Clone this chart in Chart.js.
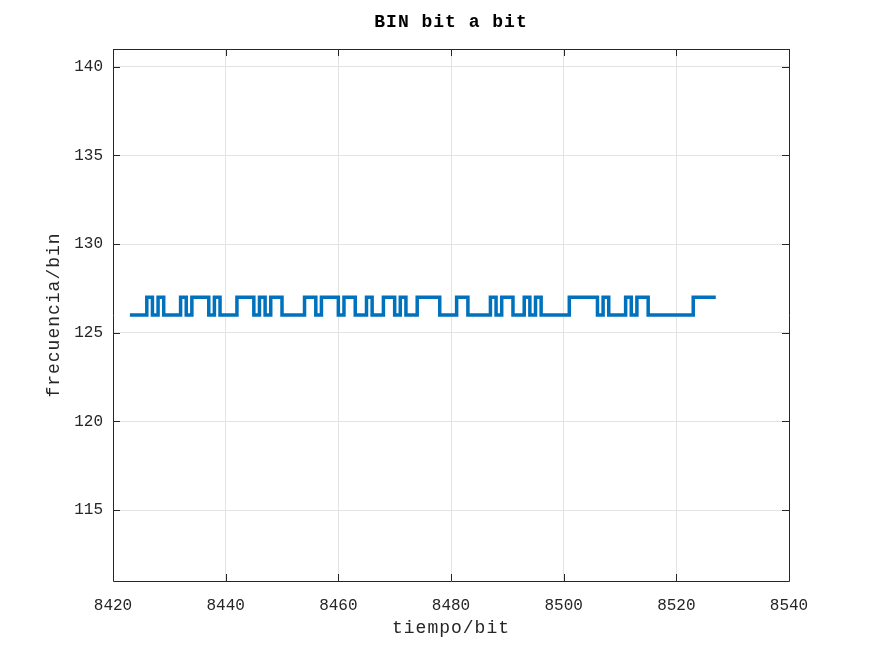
<!DOCTYPE html>
<html>
<head>
<meta charset="utf-8">
<script src="https://cdn.jsdelivr.net/npm/chart.js@4/dist/chart.umd.min.js"></script>
<style>
  html, body { margin: 0; padding: 0; background: #fff; }
  canvas { display: block; }
</style>
</head>
<body>
<canvas id="bin-chart" width="872" height="654"></canvas>
<script>
// Data: bit start times and bin values (held until next bit)
const bitTimes = [
  8423, 8424, 8425, 8426, 8427, 8428, 8429, 8430, 8431, 8432,
  8433, 8434, 8435, 8436, 8437, 8438, 8439, 8440, 8441, 8442,
  8443, 8444, 8445, 8446, 8447, 8448, 8449, 8450, 8451, 8452,
  8453, 8454, 8455, 8456, 8457, 8458, 8459, 8460, 8461, 8462,
  8463, 8464, 8465, 8466, 8467, 8468, 8469, 8470, 8471, 8472,
  8473, 8474, 8475, 8476, 8477, 8478, 8479, 8480, 8481, 8482,
  8483, 8484, 8485, 8486, 8487, 8488, 8489, 8490, 8491, 8492,
  8493, 8494, 8495, 8496, 8497, 8498, 8499, 8500, 8501, 8502,
  8503, 8504, 8505, 8506, 8507, 8508, 8509, 8510, 8511, 8512,
  8513, 8514, 8515, 8516, 8517, 8518, 8519, 8520, 8521, 8522,
  8523, 8524, 8525, 8526, 8527
];
const binValues = [
  126, 126, 126, 127, 126, 127, 126, 126, 126, 127,
  126, 127, 127, 127, 126, 127, 126, 126, 126, 127,
  127, 127, 126, 127, 126, 127, 127, 126, 126, 126,
  126, 127, 127, 126, 127, 127, 127, 126, 127, 127,
  126, 126, 127, 126, 126, 127, 127, 126, 127, 126,
  126, 127, 127, 127, 127, 126, 126, 126, 127, 127,
  126, 126, 126, 126, 127, 126, 127, 127, 126, 126,
  127, 126, 127, 126, 126, 126, 126, 126, 127, 127,
  127, 127, 127, 126, 127, 126, 126, 126, 127, 126,
  127, 127, 126, 126, 126, 126, 126, 126, 126, 126,
  127, 127, 127, 127, 127
];
const xTickValues = [8420, 8440, 8460, 8480, 8500, 8520, 8540];
const yTickValues = [115, 120, 125, 130, 135, 140];

const FONT = "'Liberation Mono', 'DejaVu Sans Mono', monospace";
const INK = '#262626';

// Box, inward ticks, title and axis labels (MATLAB look)
const matlabFrame = {
    id: 'matlabFrame',
    afterDraw(chart) {
        const ctx = chart.ctx;
        const a = chart.chartArea;
        const xs = chart.scales.x;
        const ys = chart.scales.y;
        const tl = 7;

        ctx.save();
        ctx.strokeStyle = INK;
        ctx.lineWidth = 1;
        ctx.beginPath();
        ctx.rect(Math.round(a.left) + 0.5, Math.round(a.top) + 0.5,
                 Math.round(a.right - a.left), Math.round(a.bottom - a.top));
        xTickValues.forEach(v => {
            const px = Math.round(xs.getPixelForValue(v)) + 0.5;
            ctx.moveTo(px, a.bottom); ctx.lineTo(px, a.bottom - tl);
            ctx.moveTo(px, a.top); ctx.lineTo(px, a.top + tl);
        });
        yTickValues.forEach(v => {
            const py = Math.round(ys.getPixelForValue(v)) + 0.5;
            ctx.moveTo(a.left, py); ctx.lineTo(a.left + tl, py);
            ctx.moveTo(a.right, py); ctx.lineTo(a.right - tl, py);
        });
        ctx.stroke();

        ctx.letterSpacing = '1px';
        ctx.fillStyle = '#000';
        ctx.textAlign = 'center';
        ctx.textBaseline = 'middle';
        ctx.font = 'bold 18px ' + FONT;
        ctx.fillText('BIN bit a bit', (a.left + a.right) / 2, 22);

        ctx.fillStyle = INK;
        ctx.font = '18px ' + FONT;
        ctx.fillText('tiempo/bit', (a.left + a.right) / 2, 628);

        ctx.translate(54, (a.top + a.bottom) / 2);
        ctx.rotate(-Math.PI / 2);
        ctx.fillText('frecuencia/bin', 0, 0);
        ctx.restore();
    }
};

const ctx = document.getElementById('bin-chart').getContext('2d');
const binChart = new Chart(ctx, {
    type: 'line',
    data: {
        datasets: [{
            data: bitTimes.map((t, i) => ({ x: t, y: binValues[i] })),
            borderColor: '#0072BD',
            borderWidth: 3.5,
            pointRadius: 0,
            fill: false,
            stepped: true,
            tension: 0
        }]
    },
    options: {
        responsive: false,
        animation: false,
        layout: {
            padding: { top: 49, right: 83, bottom: 0, left: 0 }
        },
        plugins: {
            legend: { display: false },
            title: { display: false },
            tooltip: { enabled: false }
        },
        scales: {
            x: {
                type: 'linear',
                min: 8420,
                max: 8540,
                afterBuildTicks: s => { s.ticks = xTickValues.map(v => ({ value: v })); },
                afterFit: s => { s.height = 73; },
                grid: { color: '#e3e3e3', drawTicks: false },
                border: { display: false },
                ticks: {
                    padding: 15,
                    maxRotation: 0,
                    color: INK,
                    font: { family: FONT, size: 16 },
                    callback: v => String(v)
                }
            },
            y: {
                min: 111,
                max: 141,
                afterBuildTicks: s => { s.ticks = yTickValues.map(v => ({ value: v })); },
                afterFit: s => { s.width = 113; },
                grid: { color: '#e3e3e3', drawTicks: false },
                border: { display: false },
                ticks: {
                    padding: 10,
                    color: INK,
                    font: { family: FONT, size: 16 },
                    callback: v => String(v)
                }
            }
        }
    },
    plugins: [matlabFrame]
});
</script>
</body>
</html>
